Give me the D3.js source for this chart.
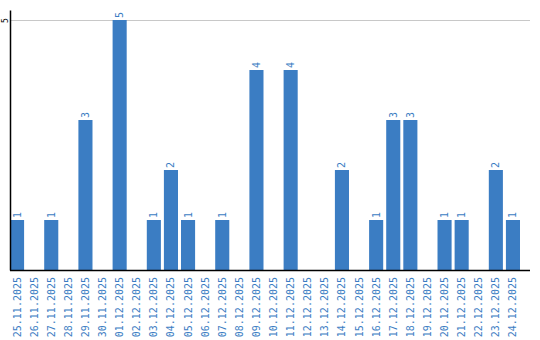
<!DOCTYPE html>
<html><head><meta charset="utf-8">
<script src="https://cdn.jsdelivr.net/npm/d3@7"></script>
<style>body{margin:0;background:#fff}svg{display:block}</style>
</head><body>
<script>
const categories = ["25.11.2025","26.11.2025","27.11.2025","28.11.2025","29.11.2025","30.11.2025","01.12.2025","02.12.2025","03.12.2025","04.12.2025","05.12.2025","06.12.2025","07.12.2025","08.12.2025","09.12.2025","10.12.2025","11.12.2025","12.12.2025","13.12.2025","14.12.2025","15.12.2025","16.12.2025","17.12.2025","18.12.2025","19.12.2025","20.12.2025","21.12.2025","22.12.2025","23.12.2025","24.12.2025"];
const values = [1,0,1,0,3,0,5,0,1,2,1,0,1,0,4,0,4,0,0,2,0,1,3,3,0,1,1,0,2,1];
const yTicks = [5];

const W = 540, H = 340;
const svg = d3.select("body").append("svg").attr("width", W).attr("height", H);
const x = d3.scaleBand().domain(categories).range([10, 520]).paddingInner(0.176).paddingOuter(0).align(0);
const y = d3.scaleLinear().domain([0, 5.2]).range([270, 10]);
const blue = "#3b7dc3";
const font = "DejaVu Sans Mono";

// gridlines
svg.append("g").selectAll("line").data(yTicks).join("line")
  .attr("x1", 10).attr("x2", 530).attr("y1", d => Math.round(y(d)) + 0.5).attr("y2", d => Math.round(y(d)) + 0.5)
  .attr("stroke", "#c8c8c8").attr("stroke-width", 1);

// bars
svg.append("g").selectAll("rect").data(values).join("rect")
  .attr("x", (d, i) => x(categories[i])).attr("width", x.bandwidth())
  .attr("y", d => y(d)).attr("height", d => y(0) - y(d))
  .attr("fill", blue);

// value labels
svg.append("g").selectAll("text").data(values.map((v, i) => ({v, c: categories[i]})).filter(d => d.v > 0)).join("text")
  .attr("transform", d => `translate(${x(d.c) + x.bandwidth() / 2 + 3.5},${y(d.v) - 2}) rotate(-90)`)
  .attr("text-anchor", "start").attr("font-family", font).attr("font-size", 10).attr("fill", blue)
  .text(d => d.v);

// y axis
const yAxis = d3.axisLeft(y).tickValues(yTicks).tickFormat(d3.format("d")).tickSize(0).tickPadding(0);
const ga = svg.append("g").attr("transform", "translate(10,0)").call(yAxis);
ga.select(".domain").attr("stroke", "#000").attr("stroke-width", 1.5);
ga.selectAll(".tick text").attr("font-family", font).attr("font-size", 8).attr("fill", "#000")
  .attr("transform", "translate(-2,0) rotate(-90)").attr("text-anchor", "middle").attr("x", 0).attr("dy", "0");

// x axis
const xAxis = d3.axisBottom(x).tickSize(0).tickPadding(0);
const gx = svg.append("g").attr("transform", "translate(0,270)").call(xAxis);
gx.select(".domain").remove();
svg.append("line").attr("x1", 10).attr("x2", 530).attr("y1", 270.5).attr("y2", 270.5).attr("stroke", "#000").attr("stroke-width", 1.5);
gx.selectAll(".tick text").attr("font-family", font).attr("font-size", 10).attr("fill", blue)
  .attr("transform", "translate(3.5,7) rotate(-90)").attr("text-anchor", "end").attr("x", 0).attr("y", 0).attr("dy", 0);
</script>
</body></html>
